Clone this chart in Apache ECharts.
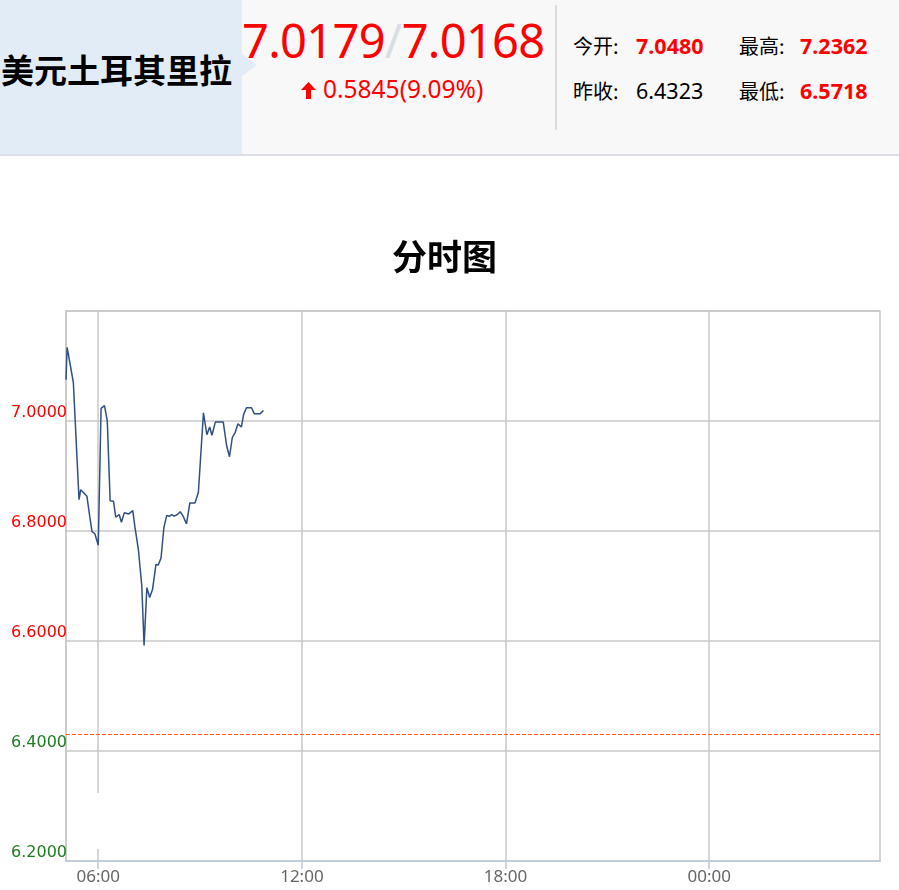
<!DOCTYPE html>
<html>
<head>
<meta charset="utf-8">
<script src="https://cdn.jsdelivr.net/npm/echarts@6/dist/echarts.min.js"></script>
<style>
  html, body { margin: 0; padding: 0; background: #fff; width: 899px; height: 890px; overflow: hidden; }
  #chart { position: absolute; left: 0; top: 0; width: 899px; height: 890px; }
  #header { position: absolute; left: 0; top: 0; width: 899px; height: 154px; background: #f8f8f8; border-bottom: 2px solid #dcdfe8; z-index: 2; font-family: "Noto Sans CJK SC", "Noto Sans", sans-serif; }
  #namebox { position: absolute; left: 0; top: 0; width: 242px; height: 154px; background: #e2ecf7; }
  #namebox .tri { position: absolute; left: 242px; top: 54px; width: 0; height: 0; border-top: 11px solid transparent; border-bottom: 11px solid transparent; border-left: 15px solid #e2ecf7; }
  #name { position: absolute; left: 1px; top: 46px; font-size: 33px; font-weight: bold; color: #000; white-space: nowrap; line-height: 46px; letter-spacing: 0px; }
  #price { position: absolute; left: 242px; top: 8px; font-family: "Noto Sans", sans-serif; font-size: 47px; color: #ff0000; line-height: 64px; white-space: nowrap; letter-spacing: -0.7px; }
  #price .sl { color: #d9dde4; }
  #chg { position: absolute; left: 301px; top: 72px; font-family: "Noto Sans", sans-serif; font-size: 24.5px; color: #ff0000; line-height: 34px; white-space: nowrap; }
  #chg svg { vertical-align: -1px; margin-right: 7px; }
  #divider { position: absolute; left: 555px; top: 5px; width: 2px; height: 125px; background: #dcdcdc; }
  .st { position: absolute; font-size: 20px; line-height: 28px; white-space: nowrap; color: #000; }
  .v { position: absolute; font-family: "Noto Sans", sans-serif; font-size: 21.5px; line-height: 28px; white-space: nowrap; }
  .red { color: #ff0000; font-weight: bold; }
</style>
</head>
<body>
<div id="chart"></div>
<div id="header">
  <div id="namebox"><div class="tri"></div><div id="name"></div></div>
  <div id="price"></div>
  <div id="chg"></div>
  <div id="divider"></div>
  <div id="stats"></div>
</div>
<script>
// ---- data ----
const pairName = '美元土耳其里拉';
const bidPrice = '7.0179';
const askPrice = '7.0168';
const change = '0.5845';
const changePct = '9.09%';
const statLabels = ['今开:', '最高:', '昨收:', '最低:'];
const statValues = ['7.0480', '7.2362', '6.4323', '6.5718'];
const preClose = 6.4323;
const chartTitle = '分时图';
const startTime = '05:03';
const tickLabels = ['06:00', '12:00', '18:00', '00:00'];
const times = ['05:03','05:05','05:16','05:26','05:29','05:32','05:40','05:45','05:49','05:54',
  '06:00','06:05','06:11','06:16','06:21','06:27','06:31','06:37','06:41','06:46',
  '06:54','07:01','07:05','07:11','07:17','07:21','07:26','07:31','07:36','07:42',
  '07:46','07:51','07:56','08:01','08:06','08:10','08:14','08:20','08:25','08:30',
  '08:36','08:42','08:51','08:57','09:06','09:12','09:17','09:21','09:27','09:41',
  '09:47','09:52','09:57','10:02','10:07','10:13','10:17','10:22','10:31','10:36',
  '10:46','10:52'];
const prices = [7.075,7.134,7.070,6.857,6.875,6.874,6.863,6.826,6.799,6.795,
  6.774,7.023,7.028,7.000,6.855,6.854,6.825,6.830,6.816,6.833,
  6.831,6.837,6.806,6.766,6.700,6.592,6.697,6.679,6.694,6.739,
  6.738,6.751,6.806,6.828,6.827,6.830,6.827,6.830,6.835,6.827,
  6.813,6.851,6.851,6.870,7.015,6.975,6.989,6.974,6.998,6.998,
  6.955,6.935,6.970,6.979,6.995,6.989,7.012,7.024,7.024,7.013,
  7.013,7.019];
const yMin = 6.2, yMax = 7.2, yStep = 0.2;

// ---- header ----
document.getElementById('name').textContent = pairName;
document.getElementById('price').innerHTML = bidPrice + '<span class="sl">/</span>' + askPrice;
document.getElementById('chg').innerHTML =
  '<svg width="15" height="17" viewBox="0 0 15 17"><polygon points="7.5,0 15,8 10,8 10,17 5,17 5,8 0,8" fill="#ff0000"/></svg>' +
  change + '(' + changePct + ')';
const statPos = [[573, 32, 636], [739, 32, 800], [573, 77, 636], [739, 77, 800]];
const stats = document.getElementById('stats');
statLabels.forEach((l, i) => {
  const [lx, ty, vx] = statPos[i];
  const a = document.createElement('div');
  a.className = 'st'; a.style.left = lx + 'px'; a.style.top = ty + 'px'; a.textContent = l;
  const b = document.createElement('div');
  b.className = 'v' + (i === 2 ? '' : ' red'); b.style.left = vx + 'px'; b.style.top = ty + 'px';
  b.textContent = statValues[i];
  stats.appendChild(a); stats.appendChild(b);
});

// ---- categories: one per minute over 24h ----
const categories = [];
{
  const [h0, m0] = startTime.split(':').map(Number);
  for (let k = 0; k < 1440; k++) {
    const t = (h0 * 60 + m0 + k) % 1440;
    categories.push(String(Math.floor(t / 60)).padStart(2, '0') + ':' + String(t % 60).padStart(2, '0'));
  }
}
const showTick = (idx, val) => tickLabels.indexOf(categories[idx]) >= 0;
const seriesData = times.map((t, i) => [categories.indexOf(t), prices[i]]);

const chart = echarts.init(document.getElementById('chart'));
chart.setOption({
  animation: false,
  title: {
    text: chartTitle, left: 387, top: 234,
    textStyle: { fontSize: 35, fontWeight: 'bold', color: '#000', fontFamily: 'Noto Sans CJK SC' }
  },
  grid: { left: 66, right: 19, top: 311, bottom: 29, show: true, borderColor: '#c8c8c8', borderWidth: 1.5 },
  xAxis: {
    type: 'category', data: categories, boundaryGap: false,
    axisLine: { show: true, lineStyle: { color: '#c3ccda', width: 2 } },
    axisTick: { show: true, interval: showTick, length: 8, lineStyle: { color: '#b9c8dc', width: 1.5 } },
    axisLabel: { interval: showTick, color: '#666', fontSize: 17, margin: 8, fontFamily: 'Noto Sans' },
    splitLine: { show: true, interval: showTick, lineStyle: { color: '#c8c8c8', width: 1.5 } }
  },
  yAxis: {
    type: 'value', min: yMin, max: yMax, interval: yStep,
    axisLine: { show: true, lineStyle: { color: '#c8c8c8', width: 1.5 } },
    axisTick: { show: false },
    axisLabel: {
      showMaxLabel: false, margin: -1, verticalAlign: 'bottom', fontSize: 16, fontFamily: 'DejaVu Sans',
      formatter: v => v.toFixed(4),
      color: v => (v > preClose ? '#ff0000' : '#1e7d1e')
    },
    splitLine: { show: true, lineStyle: { color: '#c8c8c8', width: 1.5 } }
  },
  series: [{
    type: 'line', data: seriesData, showSymbol: false, symbol: 'none',
    lineStyle: { color: '#2f5080', width: 1.5 },
    markLine: {
      silent: true, symbol: 'none', label: { show: false },
      lineStyle: { color: '#ff5a1a', type: 'dashed', width: 1 },
      data: [{ yAxis: preClose }]
    }
  }],
  graphic: [{
    type: 'rect', z: 50, shape: { x: 90, y: 793, width: 112, height: 56 },
    style: { fill: '#ffffff' }
  }]
});
</script>
</body>
</html>
